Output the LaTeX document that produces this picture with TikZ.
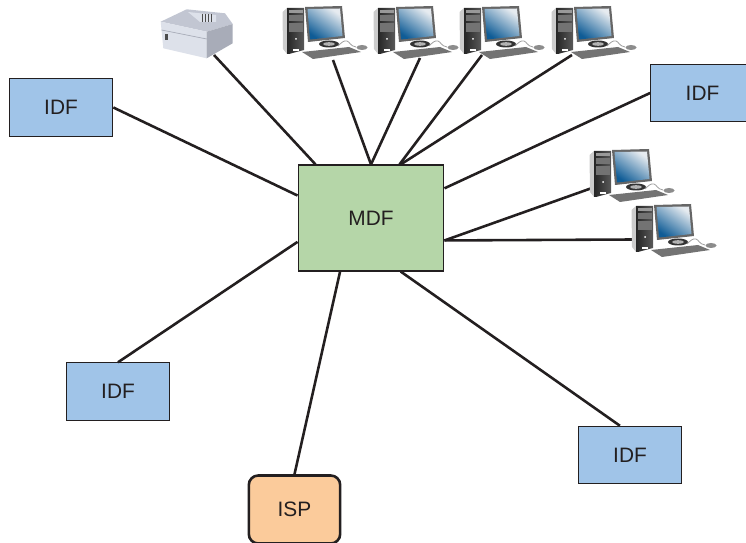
\documentclass[tikz,border=0pt]{standalone}
\usepackage{fontspec}
\setmainfont{Liberation Sans}
\usepackage{tikz}

\definecolor{idfblue}{HTML}{A0C4E8}
\definecolor{mdfgreen}{HTML}{B5D6A8}
\definecolor{isporange}{HTML}{FBCB9B}
\definecolor{inkdark}{HTML}{231F20}
\definecolor{screenlow}{HTML}{0F5C96}
\definecolor{screenhigh}{HTML}{E6EBF0}
\definecolor{printerfront}{HTML}{DDE1EA}
\definecolor{printertop}{HTML}{C2C6D2}
\definecolor{printerside}{HTML}{A8ACB8}

% #1,#2 = top left of the icon
\newcommand{\drawpc}[2]{%
	\begin{scope}[shift={(#1,-#2)}]
		\fill [gray!40] (1.5,-12) -- (6,-8) -- (6,-54) -- (2,-49) -- cycle;
		\shade [left color=black!85, right color=black!65] (6,-8) -- (23,-8) -- (23,-50) -- (8,-54) -- (6,-54) -- cycle;
		\fill [black!40] (8,-10) rectangle (22,-13);
		\fill [black!55] (8,-15) rectangle (22,-21);
		\fill [black!55] (8,-23) rectangle (22,-32);
		\fill [white] (15,-39) circle (1);
		\fill [white] (12,-51) rectangle (18,-49.5);
		\fill [black!60] (24,-7) -- (61,-6) -- (64,-38) -- (27,-42) -- cycle;
		\shade [top color=screenhigh, bottom color=screenlow, shading angle=-35] (26.5,-9) -- (59,-8.5) -- (61.5,-36) -- (29,-39.5) -- cycle;
		\fill [black!80] (48,-44) ellipse (10 and 3.5);
		\fill [gray!60] (48,-44) ellipse (6 and 1.8);
		\draw [gray!75, line width=0.7pt] (57,-46) .. controls (60,-43) and (63,-40) .. (66,-41) .. controls (69,-42) and (69,-46) .. (75,-47);
		\fill [black!55] (21,-52) -- (68,-47) -- (80,-52) -- (32,-59) -- cycle;
		\fill [gray!90] (81,-47.5) ellipse (5.5 and 2.5);
	\end{scope}
}

\begin{document}
\begin{tikzpicture}[x=0.03cm,y=0.03cm]
	\tikzstyle{every node}+=[font=\fontsize{17.8}{20}\selectfont, text=inkdark, inner sep=0pt]
	\tikzstyle{plainbox}=[draw=inkdark, line width=0.9pt, minimum width=88.5pt, minimum height=49pt]
	\tikzstyle{idfbox}=[plainbox, fill=idfblue]
	\tikzstyle{cable}=[draw=inkdark, line width=2.2pt]
	\clip (0,0) rectangle (746,-543);
	% boxes
	\node [draw=inkdark, line width=0.9pt, fill=mdfgreen, minimum width=124.5pt, minimum height=90.5pt] (mdf) at (371,-218) {MDF};
	\node [idfbox] (idfa) at (61,-107.5) {IDF};
	\node [idfbox] (idfb) at (702.5,-93) {IDF};
	\node [idfbox] (idfc) at (118,-391.5) {IDF};
	\node [idfbox] (idfd) at (630,-455) {IDF};
	\node [draw=inkdark, line width=2.2pt, fill=isporange, rounded corners=8pt, minimum width=78pt, minimum height=58pt] (isp) at (294.5,-509.5) {ISP};
	% printer cable end
	\coordinate (printer) at (214,-55);
	% cable ends of the computers
	\coordinate (pca) at (333,-60);
	\coordinate (pcb) at (420,-58);
	\coordinate (pcc) at (482,-55);
	\coordinate (pcd) at (572,-55);
	\coordinate (pce) at (592,-188);
	\coordinate (pcf) at (633,-239.5);
	% cables
	\draw [cable] (printer) -- (mdf.136);
	\draw [cable] (pca) -- (mdf.90);
	\draw [cable] (pcb) -- (mdf.90);
	\draw [cable] (pcc) -- (mdf.62);
	\draw [cable] (pcd) -- (mdf.61);
	\draw [cable] (idfb.west) -- (mdf.22);
	\draw [cable] (pce) -- (mdf.-17);
	\draw [cable] (pcf) -- (mdf.-17);
	\draw [cable] (idfd.109) -- (mdf.-61.5);
	\draw [cable] (isp.north) -- (mdf.240.7);
	\draw [cable] (idfc.north) -- (mdf.198);
	\draw [cable] (idfa.east) -- (mdf.163);
	% printer
	\fill [printertop] (160.7,-21.7) -- (186.7,-9.3) -- (225,-13.3) -- (232.7,-24) -- (206.7,-31.7) -- cycle;
	\fill [printerfront] (160.7,-21.7) -- (206.7,-31.7) -- (206.7,-58.3) -- (163.3,-48.3) -- cycle;
	\fill [printerside] (206.7,-31.7) -- (232.7,-24) -- (232.7,-43.3) -- (206.7,-58.3) -- cycle;
	\draw [printerside, line width=0.6pt] (161.5,-30) -- (206.7,-39);
	\fill [printerfront] (188,-12) -- (216,-15) -- (216,-22) -- (200,-22) -- cycle;
	\foreach \x in {202,205,208,211}
		\draw [black!70, line width=0.6pt] (\x,-14) -- (\x,-22);
	\fill [black!70] (164.5,-34) rectangle (167.5,-40);
	% computers
	\drawpc{281}{0}
	\drawpc{372}{0}
	\drawpc{458}{0}
	\drawpc{550}{0}
	\drawpc{588}{143}
	\drawpc{630}{198}
\end{tikzpicture}
\end{document}
